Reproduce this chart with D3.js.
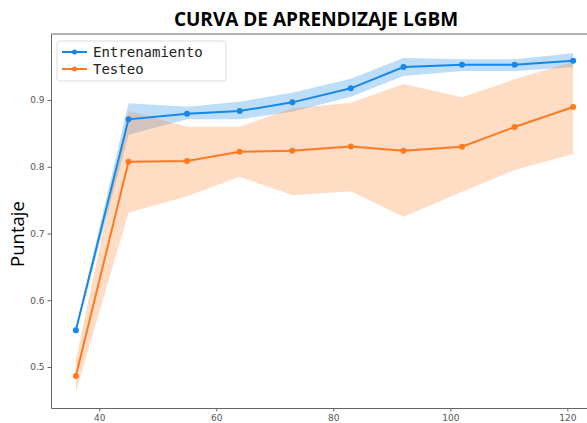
<!DOCTYPE html>
<meta charset="utf-8">
<head>
    <style>
        body { margin: 0; background: #fff; }
        .tick text { font-family: 'DejaVu Sans', sans-serif; font-size: 9px; fill: #555; }
        .tick line, .domain { stroke: #666; }
        .title { font-family: 'Open Sans', sans-serif; font-size: 19px; font-weight: 700; text-anchor: middle; }
        .ylabel { font-family: 'Open Sans', sans-serif; font-size: 18.5px; text-anchor: middle; }
        .legend-text { font-family: 'DejaVu Sans Mono', monospace; font-size: 14px; fill: #222; }
    </style>
</head>
<script src="https://d3js.org/d3.v7.min.js"></script>
<div id="chart"></div>
<script>
    // tamaños de entrenamiento
    const trainSizes = [36, 45, 55, 64, 73, 83, 92, 102, 111, 121];

    // Entrenamiento
    const trainMean = [0.555, 0.871, 0.8795, 0.8835, 0.8965, 0.9175, 0.9495, 0.953, 0.953, 0.959];
    const trainUpper = [0.558, 0.895, 0.890, 0.8975, 0.911, 0.932, 0.963, 0.961, 0.961, 0.970];
    const trainLower = [0.552, 0.848, 0.871, 0.871, 0.8825, 0.905, 0.936, 0.9435, 0.9435, 0.949];

    // Testeo
    const testMean = [0.4865, 0.8075, 0.8085, 0.8225, 0.824, 0.8305, 0.824, 0.830, 0.8595, 0.8895];
    const testUpper = [0.510, 0.8835, 0.860, 0.860, 0.8875, 0.896, 0.924, 0.904, 0.931, 0.9575];
    const testLower = [0.463, 0.731, 0.756, 0.785, 0.7575, 0.7635, 0.725, 0.7625, 0.795, 0.819];

    const xTicks = [40, 60, 80, 100, 120];
    const yTicks = [0.5, 0.6, 0.7, 0.8, 0.9];

    const W = 587, H = 423;
    const margin = { top: 34, right: -11, bottom: 15, left: 51 };

    const svg = d3.select("#chart").append("svg")
        .attr("width", W)
        .attr("height", H);

    const x = d3.scaleLinear()
        .domain([31.75, 125.25])
        .range([margin.left, W - margin.right]);
    const y = d3.scaleLinear()
        .domain([0.4386, 0.9989])
        .range([H - margin.bottom, margin.top]);

    const blue = "#1787e8", orange = "#ff7a1f";

    function series(mean, lo, hi) {
        return trainSizes.map((s, i) => ({ s: s, m: mean[i], lo: lo[i], hi: hi[i] }));
    }
    const train = series(trainMean, trainLower, trainUpper);
    const test = series(testMean, testLower, testUpper);

    const area = d3.area()
        .x(d => x(d.s))
        .y0(d => y(d.lo))
        .y1(d => y(d.hi));
    const line = d3.line()
        .x(d => x(d.s))
        .y(d => y(d.m));

    // bandas
    svg.append("path").datum(train).attr("d", area)
        .attr("fill", "#2490e8").attr("fill-opacity", 0.3);
    svg.append("path").datum(test).attr("d", area)
        .attr("fill", "#ff8a3d").attr("fill-opacity", 0.3);

    // lineas + marcadores
    [[train, blue], [test, orange]].forEach(([data, col]) => {
        svg.append("path").datum(data).attr("d", line)
            .attr("fill", "none").attr("stroke", col).attr("stroke-width", 2);
        svg.append("g").selectAll("circle")
            .data(data).enter().append("circle")
            .attr("cx", d => x(d.s))
            .attr("cy", d => y(d.m))
            .attr("r", 3)
            .attr("fill", col);
    });

    // ejes
    svg.append("g")
        .attr("transform", "translate(0," + (H - margin.bottom) + ")")
        .call(d3.axisBottom(x).tickValues(xTicks).tickSizeInner(3.5).tickSizeOuter(0).tickPadding(3).tickFormat(d3.format("d")));
    svg.append("g")
        .attr("transform", "translate(" + margin.left + ",0)")
        .call(d3.axisLeft(y).tickValues(yTicks).tickSizeInner(3.5).tickSizeOuter(0).tickPadding(3).tickFormat(d3.format(".1f")));
    svg.append("line")
        .attr("x1", margin.left).attr("x2", W)
        .attr("y1", margin.top).attr("y2", margin.top)
        .attr("stroke", "#666");

    svg.append("text")
        .attr("class", "title")
        .attr("x", 316).attr("y", 26)
        .text("CURVA DE APRENDIZAJE LGBM");

    svg.append("text")
        .attr("class", "ylabel")
        .attr("transform", "translate(24,234) rotate(-90)")
        .text("Puntaje");

    // leyenda
    const leg = svg.append("g");
    leg.append("rect")
        .attr("x", 57).attr("y", 41).attr("width", 169).attr("height", 40)
        .attr("rx", 3)
        .attr("fill", "#fff").attr("fill-opacity", 0.8)
        .attr("stroke", "#ddd");
    [["Entrenamiento", blue], ["Testeo", orange]].forEach(([name, col], i) => {
        const yy = 52 + i * 17;
        leg.append("line")
            .attr("x1", 62).attr("x2", 87).attr("y1", yy).attr("y2", yy)
            .attr("stroke", col).attr("stroke-width", 2);
        leg.append("circle").attr("cx", 74.5).attr("cy", yy).attr("r", 2.5).attr("fill", col);
        leg.append("text")
            .attr("class", "legend-text")
            .attr("x", 93).attr("y", yy + 5)
            .text(name);
    });
</script>
